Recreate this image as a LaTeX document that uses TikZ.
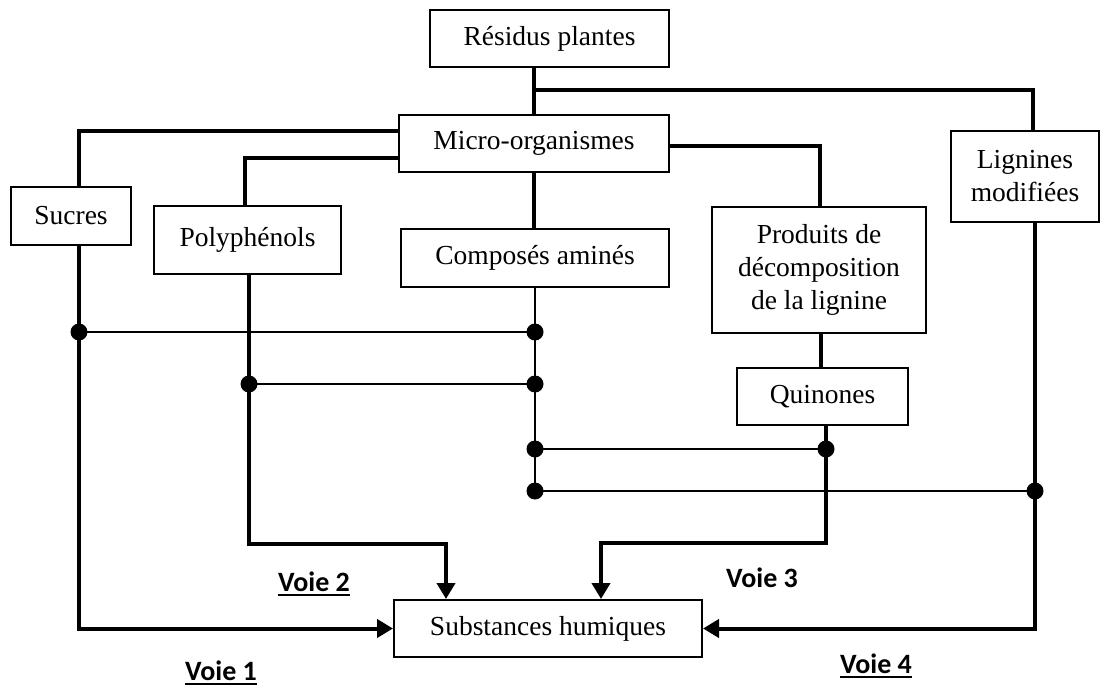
\documentclass[tikz,border=0pt]{standalone}
\usepackage{fontspec}
\setmainfont{Liberation Serif}
\newfontfamily\voiefont{Carlito}
\usetikzlibrary{arrows.meta,calc}
\tikzset{
  box/.style={draw, line width=2pt, inner sep=0pt, align=center, font=\fontsize{27.5}{33}\selectfont},
  thk/.style={line width=4pt},
  thn/.style={line width=2pt},
  arr/.style={thk, -{Triangle[length=16pt,width=18pt]}},
  dot/.style={circle, fill=black, inner sep=0pt, minimum size=17pt},
  voie/.style={inner sep=0pt, font=\voiefont\bfseries\fontsize{28}{32}\selectfont},
  ul/.style={line width=2.5pt}
}
\begin{document}
\begin{tikzpicture}[x=1pt,y=-1pt]
\useasboundingbox (0,0) rectangle (1102,687);
% boxes
\node[box, minimum width=239pt, minimum height=57pt] (res) at (549.5,38.5) {Résidus plantes};
\node[box, minimum width=270pt, minimum height=57pt] (mic) at (534,143.5) {Micro-organismes};
\node[box, minimum width=120pt, minimum height=58pt] (suc) at (71,216) {Sucres};
\node[box, minimum width=187pt, minimum height=68pt] (pol) at (247.5,240) {Polyphénols};
\node[box, minimum width=268pt, minimum height=58pt] (com) at (535,258) {Composés aminés};
\node[box, minimum width=214pt, minimum height=126pt] (pro) at (819,270) {Produits de\\décomposition\\de la lignine};
\node[box, minimum width=148pt, minimum height=91pt] (lig) at (1025,176.5) {Lignines\\modifiées};
\node[box, minimum width=171pt, minimum height=57pt] (qui) at (822.5,396.5) {Quinones};
\node[box, minimum width=308pt, minimum height=57pt] (sub) at (548,628.5) {Substances humiques};
% junctions
\coordinate (b0) at (534,90);
\coordinate (j1) at (79,332);
\coordinate (j2) at (535,332);
\coordinate (j3) at (249,384);
\coordinate (j4) at (535,384);
\coordinate (j5) at (535,449);
\coordinate (j6) at (826,449);
\coordinate (j7) at (535,491);
\coordinate (j8) at (1035,491);
\coordinate (p2) at (446,544);
\coordinate (q2) at (601,543);
% thick connectors
\draw[thk] (res.south -| mic.north) -- (mic.north);
\draw[thk] (b0) -| ([xshift=8pt]lig.north);
\draw[thk] ([yshift=12.5pt]mic.west) -| ([xshift=8pt]suc.north);
\draw[thk] ([yshift=-14.5pt]mic.west) -| ([xshift=-2.5pt]pol.north);
\draw[thk] (mic.south) -- (mic.south |- com.north);
\draw[thk] ([yshift=-2.5pt]mic.east) -| ([xshift=1pt]pro.north);
\draw[thk] ([xshift=2pt]pro.south) -- ([xshift=-1.5pt]qui.north);
% pathways to Substances humiques
\draw[arr] ([xshift=8pt]suc.south) |- (sub.west);
\draw[arr] ([xshift=1.5pt]pol.south) |- (p2) -- (p2 |- sub.north);
\draw[arr] ([xshift=3.5pt]qui.south) |- (q2) -- (q2 |- sub.north);
\draw[arr] ([xshift=10pt]lig.south) |- (sub.east);
% thin links
\draw[thn] (com.south) -- (j7);
\draw[thn] (j1) -- (j2);
\draw[thn] (j3) -- (j4);
\draw[thn] (j5) -- (j6);
\draw[thn] (j7) -- (j8);
% dots
\foreach \j in {j1,j2,j3,j4,j5,j6,j7,j8} \node[dot] at (\j) {};
% labels
\node[voie] (v1) at (221,671) {Voie 1};
\node[voie] (v2) at (314,582) {Voie 2};
\node[voie] (v3) at (762,578) {Voie 3};
\node[voie] (v4) at (876,664) {Voie 4};
\draw[ul] ([yshift=-3.5pt]v1.base west) -- ([yshift=-3.5pt]v1.base east);
\draw[ul] ([yshift=-3.5pt]v2.base west) -- ([yshift=-3.5pt]v2.base east);
\draw[ul] ([yshift=-3.5pt]v4.base west) -- ([yshift=-3.5pt]v4.base east);
\end{tikzpicture}
\end{document}
